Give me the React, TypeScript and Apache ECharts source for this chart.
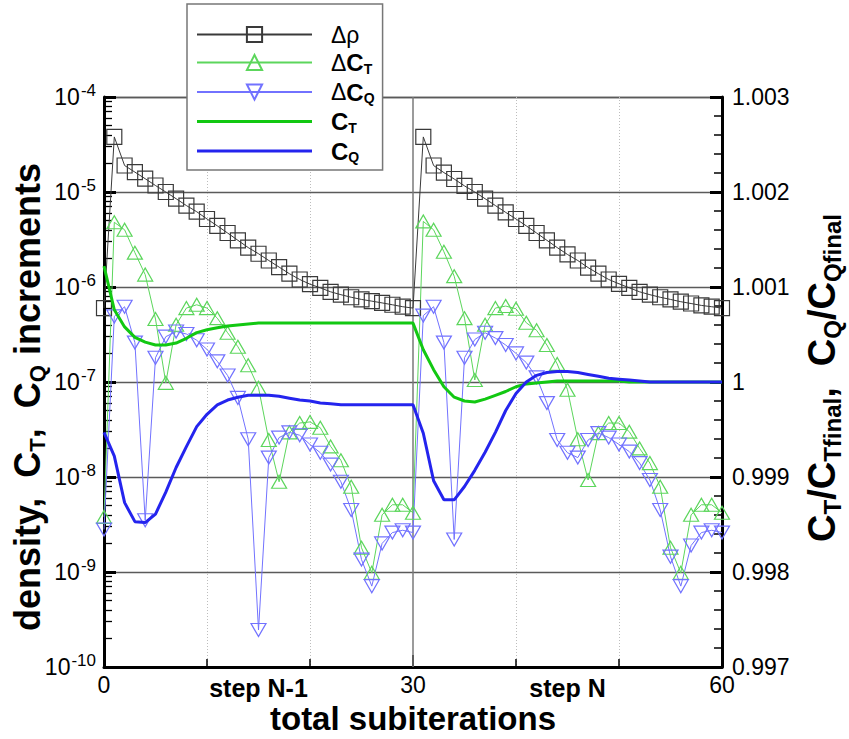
import { useEffect, useRef } from 'react';
import * as echarts from 'echarts';

const subIterations = [
  0, 1, 2, 3, 4, 5, 6, 7, 8, 9, 10, 11, 12, 13, 14, 15, 16, 17, 18, 19, 20,
  21, 22, 23, 24, 25, 26, 27, 28, 29, 30, 31, 32, 33, 34, 35, 36, 37, 38, 39, 40,
  41, 42, 43, 44, 45, 46, 47, 48, 49, 50, 51, 52, 53, 54, 55, 56, 57, 58, 59, 60,
];

const densityIncrement = [
  6.0e-7, 3.8e-5, 1.9e-5, 1.62e-5, 1.38e-5, 1.17e-5, 1.0e-5, 8.5e-6, 7.2e-6, 6.2e-6, 5.2e-6,
  4.4e-6, 3.7e-6, 3.1e-6, 2.6e-6, 2.24e-6, 1.9e-6, 1.62e-6, 1.38e-6, 1.2e-6, 1.07e-6,
  9.8e-7, 8.9e-7, 8.3e-7, 7.8e-7, 7.4e-7, 7.1e-7, 6.8e-7, 6.5e-7, 6.2e-7, 6.0e-7,
  3.8e-5, 1.9e-5, 1.6e-5, 1.37e-5, 1.16e-5, 1.0e-5, 8.5e-6, 7.2e-6, 6.1e-6, 5.2e-6,
  4.4e-6, 3.7e-6, 3.1e-6, 2.6e-6, 2.2e-6, 1.9e-6, 1.6e-6, 1.38e-6, 1.2e-6, 1.08e-6,
  9.8e-7, 8.9e-7, 8.3e-7, 7.8e-7, 7.4e-7, 7.0e-7, 6.7e-7, 6.4e-7, 6.2e-7, 6.0e-7,
];

const thrustIncrement = [
  3.8e-9, 4.8e-6, 4.0e-6, 2.3e-6, 1.35e-6, 4.6e-7, 9.8e-8, 4.0e-7, 6.0e-7, 6.5e-7, 6.0e-7,
  4.7e-7, 3.3e-7, 2.35e-7, 1.5e-7, 8.7e-8, 2.45e-8, 8.9e-9, 2.95e-8, 3.7e-8, 3.8e-8,
  3.3e-8, 2.1e-8, 1.5e-8, 7.9e-9, 1.8e-9, 9.8e-10, 4.0e-9, 5.1e-9, 5.1e-9, 4.2e-9,
  4.9e-6, 4.0e-6, 2.35e-6, 1.3e-6, 4.7e-7, 1.05e-7, 4.0e-7, 6.0e-7, 6.3e-7, 5.9e-7,
  4.2e-7, 3.5e-7, 2.45e-7, 1.55e-7, 8.3e-8, 2.5e-8, 9.3e-9, 2.9e-8, 3.7e-8, 3.7e-8,
  3.0e-8, 2.0e-8, 1.4e-8, 7.9e-9, 1.8e-9, 9.8e-10, 4.0e-9, 5.1e-9, 5.1e-9, 4.2e-9,
];

const torqueIncrement = [
  2.8e-9, 4.9e-7, 6.2e-7, 2.6e-7, 3.5e-9, 1.8e-7, 3.0e-7, 3.4e-7, 3.2e-7, 2.75e-7, 2.2e-7,
  1.65e-7, 1.17e-7, 6.8e-8, 2.5e-8, 2.45e-10, 1.6e-8, 2.6e-8, 2.95e-8, 2.75e-8, 2.2e-8,
  1.8e-8, 1.35e-8, 8.9e-9, 4.5e-9, 1.35e-9, 7.1e-10, 2.0e-9, 2.6e-9, 2.75e-9, 2.6e-9,
  5.0e-7, 6.2e-7, 2.6e-7, 2.2e-9, 1.8e-7, 2.8e-7, 3.3e-7, 2.9e-7, 2.45e-7, 2.0e-7,
  1.6e-7, 1.12e-7, 6.0e-8, 2.45e-8, 1.8e-8, 1.6e-8, 2.45e-8, 2.9e-8, 2.6e-8, 2.2e-8,
  1.85e-8, 1.4e-8, 9.3e-9, 4.5e-9, 1.45e-9, 7.1e-10, 1.9e-9, 2.6e-9, 2.75e-9, 2.6e-9,
];

const thrustRatio = [
  1.00122, 1.00076, 1.00058, 1.00047, 1.00042, 1.00039, 1.00039, 1.00041, 1.00046, 1.00052, 1.00055,
  1.00057, 1.00059, 1.0006, 1.00061, 1.00062, 1.00062, 1.00062, 1.00062, 1.00062, 1.00062,
  1.00062, 1.00062, 1.00062, 1.00062, 1.00062, 1.00062, 1.00062, 1.00062, 1.00062, 1.00062,
  1.00034, 1.00013, 0.99995, 0.99984, 0.9998, 0.99979, 0.99982, 0.99986, 0.9999, 0.99995,
  0.99998, 0.99999, 1.0, 1.00001, 1.00001, 1.00001, 1.00001, 1.00001, 1.00001, 1.00001,
  1.0, 1.0, 1.0, 1.0, 1.0, 1.0, 1.0, 1.0, 1.0, 1.0,
];

const torqueRatio = [
  0.99947, 0.99922, 0.99873, 0.99853, 0.99852, 0.99861, 0.99884, 0.9991, 0.99932, 0.99953, 0.99966,
  0.99976, 0.99981, 0.99984, 0.99986, 0.99986, 0.99986, 0.99985, 0.99983, 0.99981, 0.9998,
  0.99978, 0.99977, 0.99976, 0.99976, 0.99976, 0.99976, 0.99976, 0.99976, 0.99976, 0.99976,
  0.99946, 0.99896, 0.99876, 0.99876, 0.9989, 0.99907, 0.99926, 0.99947, 0.9997, 0.99988,
  1.0, 1.00007, 1.0001, 1.00011, 1.00011, 1.0001, 1.00008, 1.00006, 1.00004, 1.00003,
  1.00002, 1.00001, 1.0, 1.0, 1.0, 1.0, 1.0, 1.0, 1.0, 1.0,
];

const xLabelValues = [0, 15, 30, 45, 60];
const xLabelTexts = ['0', 'step N-1', '30', 'step N', '60'];
const xMinorTickValues = [10, 20, 40, 50];
const xMajorTickValues = [30];
const logDecades = [-10, -9, -8, -7, -6, -5];
const logMantissas = [2, 3, 4, 5, 6, 7, 8, 9];
const seriesNames = ['drho', 'dCT', 'dCQ', 'CT', 'CQ'];
const legendLabels = [
  '{n|Δρ}',
  '{n|Δ}{b|C}{s|T}',
  '{n|Δ}{b|C}{s|Q}',
  '{b|C}{s|T}',
  '{b|C}{s|Q}',
];

const FONT = '"Liberation Sans", Arial, Helvetica, sans-serif';
const C_RHO = '#3a3a3a';
const C_DCT = '#5cd65c';
const C_DCQ = '#7272ff';
const C_CT = '#12c812';
const C_CQ = '#2424ee';

const DOWN_TRIANGLE = 'path://M0,0 L10,0 L5,8.7 Z';

export default function App() {
  const ref = useRef<HTMLDivElement>(null);

  useEffect(() => {
    if (!ref.current) return;
    const chart = echarts.init(ref.current, undefined, { renderer: 'svg' });

    const minorLogTicks: number[] = [];
    logDecades.forEach((d) => logMantissas.forEach((m) => minorLogTicks.push(d + Math.log10(m))));

    const pairs = (arr: number[]) => subIterations.map((x, i) => [x, arr[i]]);

    const option: any = {
      animation: false,
      backgroundColor: '#fff',
      textStyle: { fontFamily: FONT },
      grid: { left: 104, top: 97, width: 618, height: 570, containLabel: false },
      xAxis: [
        {
          type: 'value',
          min: 0,
          max: 60,
          interval: 15,
          position: 'bottom',
          axisLine: { show: true, onZero: false, lineStyle: { color: '#000', width: 3 } },
          axisTick: {
            show: true,
            inside: true,
            length: 12,
            customValues: xMajorTickValues,
            lineStyle: { color: '#000', width: 2 },
          },
          splitLine: { show: false },
          axisLabel: {
            margin: 5,
            customValues: xLabelValues,
            formatter: (v: number) => {
              const i = xLabelValues.indexOf(Math.round(v));
              if (i < 0) return '';
              const t = xLabelTexts[i];
              return /step/.test(t) ? `{s|${t}}` : `{n|${t}}`;
            },
            rich: {
              n: { fontSize: 23, fontFamily: FONT, color: '#000', lineHeight: 26 },
              s: { fontSize: 25, fontWeight: 'bold', fontFamily: FONT, color: '#000', lineHeight: 26, padding: [6, 0, 0, 0] },
            },
          },
        },
        {
          type: 'value',
          min: 0,
          max: 60,
          interval: 10,
          position: 'bottom',
          axisLine: { show: false },
          axisLabel: { show: false },
          axisTick: {
            show: true,
            inside: true,
            length: 8,
            customValues: xMinorTickValues,
            lineStyle: { color: '#000', width: 1.5 },
          },
          splitLine: { show: true, lineStyle: { color: '#bdbdbd', width: 1, type: [1, 2] } },
        },
      ],
      yAxis: [
        {
          type: 'log',
          logBase: 10,
          min: 1e-10,
          max: 1e-4,
          splitNumber: 6,
          position: 'left',
          axisLine: { show: true, onZero: false, lineStyle: { color: '#000', width: 3 } },
          axisTick: { show: true, inside: true, length: 12, lineStyle: { color: '#000', width: 3 } },
          splitLine: { show: true, lineStyle: { color: '#5a5a5a', width: 1.3 } },
          axisLabel: {
            margin: 8,
            formatter: (v: number) => `{m|10}{e|${Math.round(Math.log10(v))}}`,
            rich: {
              m: { fontSize: 23, fontFamily: FONT, color: '#000', lineHeight: 30, verticalAlign: 'middle' },
              e: { fontSize: 17, fontFamily: FONT, color: '#000', lineHeight: 17, verticalAlign: 'top', padding: [0, 0, 0, 1] },
            },
          },
        },
        {
          type: 'value',
          min: 0.997,
          max: 1.003,
          interval: 0.001,
          position: 'right',
          axisLine: { show: true, onZero: false, lineStyle: { color: '#000', width: 3 } },
          axisTick: { show: true, inside: true, length: 12, lineStyle: { color: '#000', width: 3 } },
          minorTick: { show: true, splitNumber: 5, length: 8, lineStyle: { color: '#000', width: 1.5 } },
          splitLine: { show: false },
          axisLabel: {
            margin: 10,
            fontSize: 23,
            fontFamily: FONT,
            color: '#000',
            formatter: (v: number) => {
              const s = v.toFixed(3);
              return s === '1.000' ? '1' : s;
            },
          },
        },
        {
          type: 'value',
          min: -10,
          max: -4,
          position: 'left',
          axisLine: { show: false },
          axisLabel: { show: false },
          splitLine: { show: false },
          axisTick: {
            show: true,
            inside: true,
            length: 8,
            customValues: minorLogTicks,
            lineStyle: { color: '#000', width: 1.3 },
          },
        },
      ],
      legend: {
        show: true,
        orient: 'vertical',
        left: 187,
        top: 4,
        padding: [19, 8, 6, 9],
        itemWidth: 115,
        itemHeight: 19,
        itemGap: 4.5,
        backgroundColor: '#fff',
        borderColor: '#777',
        borderWidth: 1.5,
        data: [
          { name: seriesNames[0] },
          { name: seriesNames[1] },
          { name: seriesNames[2] },
          { name: seriesNames[3], icon: 'path://M0,0H115V3.2H0Z' },
          { name: seriesNames[4], icon: 'path://M0,0H115V3.2H0Z' },
        ],
        formatter: (name: string) => legendLabels[seriesNames.indexOf(name)],
        textStyle: {
          padding: [0, 0, 0, 14],
          rich: {
            n: { fontSize: 23, fontFamily: FONT, color: '#000', lineHeight: 26, verticalAlign: 'middle' },
            b: { fontSize: 24, fontWeight: 'bold', fontFamily: FONT, color: '#000', lineHeight: 26, verticalAlign: 'middle' },
            s: { fontSize: 14, fontWeight: 'bold', fontFamily: FONT, color: '#000', lineHeight: 14, verticalAlign: 'bottom' },
          },
        },
      },
      series: [
        {
          name: seriesNames[0],
          type: 'line',
          xAxisIndex: 0,
          yAxisIndex: 0,
          data: pairs(densityIncrement),
          symbol: 'rect',
          symbolSize: 15,
          showSymbol: true,
          lineStyle: { color: C_RHO, width: 1 },
          itemStyle: { color: 'rgba(0,0,0,0)', borderColor: C_RHO, borderWidth: 1.2 },
          z: 3,
          markLine: {
            silent: true,
            symbol: 'none',
            label: { show: false },
            lineStyle: { color: '#7a7a7a', width: 1.5, type: 'solid' },
            data: [{ xAxis: 30 }],
            z: 1,
          },
        },
        {
          name: seriesNames[1],
          type: 'line',
          xAxisIndex: 0,
          yAxisIndex: 0,
          data: pairs(thrustIncrement),
          symbol: 'triangle',
          symbolSize: [15, 13],
          showSymbol: true,
          lineStyle: { color: C_DCT, width: 1 },
          itemStyle: { color: 'rgba(0,0,0,0)', borderColor: C_DCT, borderWidth: 1.2 },
          z: 3,
        },
        {
          name: seriesNames[2],
          type: 'line',
          xAxisIndex: 0,
          yAxisIndex: 0,
          data: pairs(torqueIncrement),
          symbol: DOWN_TRIANGLE,
          symbolSize: [15, 13],
          showSymbol: true,
          lineStyle: { color: C_DCQ, width: 1 },
          itemStyle: { color: 'rgba(0,0,0,0)', borderColor: C_DCQ, borderWidth: 1.2 },
          z: 3,
        },
        {
          name: seriesNames[3],
          type: 'line',
          xAxisIndex: 0,
          yAxisIndex: 1,
          data: pairs(thrustRatio),
          symbol: 'none',
          lineStyle: { color: C_CT, width: 3 },
          itemStyle: { color: C_CT },
          z: 4,
        },
        {
          name: seriesNames[4],
          type: 'line',
          xAxisIndex: 0,
          yAxisIndex: 1,
          data: pairs(torqueRatio),
          symbol: 'none',
          lineStyle: { color: C_CQ, width: 3 },
          itemStyle: { color: C_CQ },
          z: 4,
        },
      ],
      graphic: [
        {
          type: 'text',
          x: 413,
          y: 718,
          style: {
            text: 'total subiterations',
            fontSize: 33,
            fontWeight: 'bold',
            fontFamily: FONT,
            fill: '#000',
            align: 'center',
            verticalAlign: 'middle',
          },
        },
        {
          type: 'text',
          x: 27,
          y: 397,
          rotation: Math.PI / 2,
          style: {
            text: '{b|density,}  {b|C}{s|T}{b|,}  {b|C}{s|Q} {b|increments}',
            fontSize: 36,
            fontWeight: 'bold',
            fontFamily: FONT,
            fill: '#000',
            align: 'center',
            verticalAlign: 'middle',
            rich: {
              b: { fontSize: 36, fontWeight: 'bold', fontFamily: FONT, fill: '#000', lineHeight: 42, verticalAlign: 'middle' },
              s: { fontSize: 22, fontWeight: 'bold', fontFamily: FONT, fill: '#000', lineHeight: 22, verticalAlign: 'bottom' },
            },
          },
        },
        {
          type: 'text',
          x: 822,
          y: 378,
          rotation: Math.PI / 2,
          style: {
            text: '{b|C}{s|T}{b|/C}{s|Tfinal}{b|,}  {b|C}{s|Q}{b|/C}{s|Qfinal}',
            fontSize: 38,
            fontWeight: 'bold',
            fontFamily: FONT,
            fill: '#000',
            align: 'center',
            verticalAlign: 'middle',
            rich: {
              b: { fontSize: 38, fontWeight: 'bold', fontFamily: FONT, fill: '#000', lineHeight: 44, verticalAlign: 'middle' },
              s: { fontSize: 24, fontWeight: 'bold', fontFamily: FONT, fill: '#000', lineHeight: 24, verticalAlign: 'bottom' },
            },
          },
        },
      ],
    };

    chart.setOption(option);
    return () => chart.dispose();
  }, []);

  return (
    <div
      ref={ref}
      style={{ position: 'fixed', left: 0, top: 0, width: 849, height: 739, background: '#fff' }}
    />
  );
}
